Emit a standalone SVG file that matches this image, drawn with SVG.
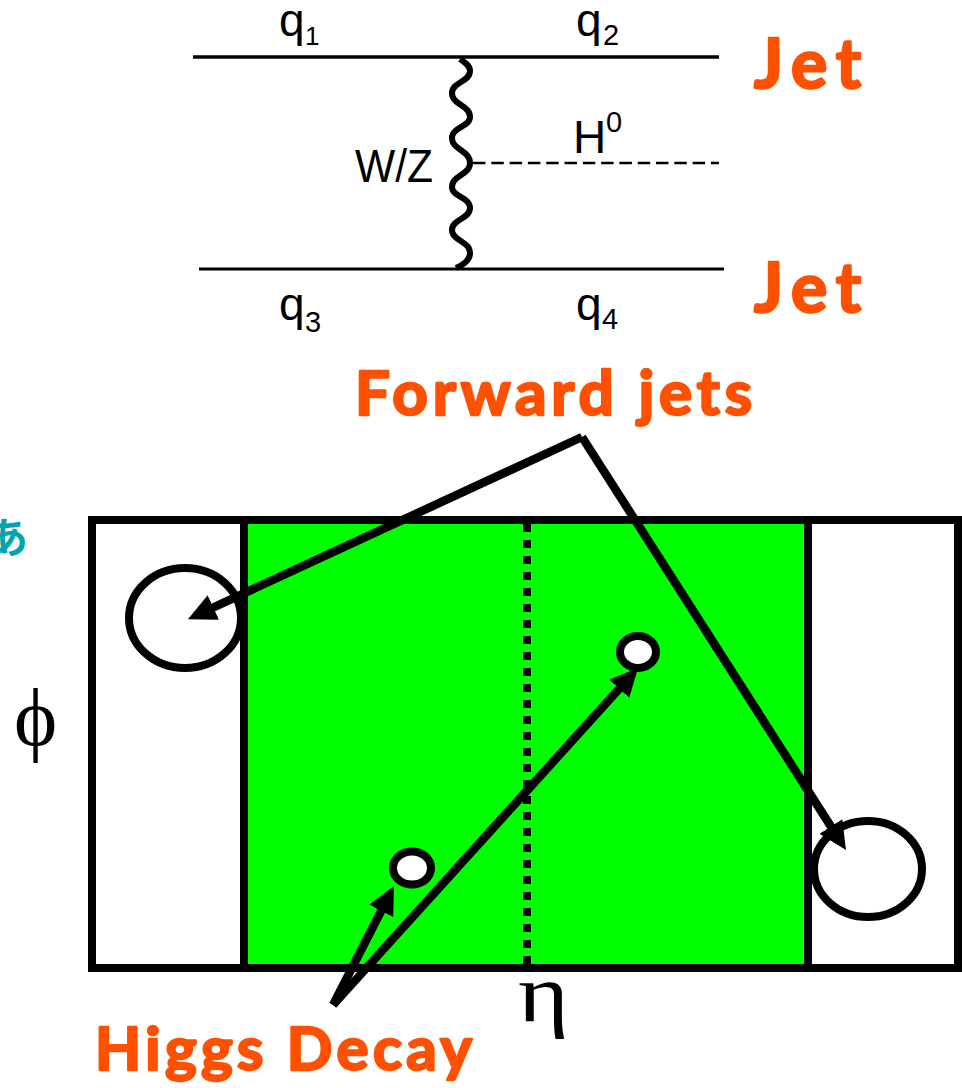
<svg xmlns="http://www.w3.org/2000/svg" width="962" height="1088" viewBox="0 0 962 1088">
<style>
.t{font-family:"Liberation Sans",Arial,sans-serif;fill:#000;font-size:46px}
.s{font-family:"Liberation Sans",Arial,sans-serif;fill:#000;font-size:29px}
.g{font-family:"Liberation Serif","Times New Roman",serif;fill:#000}
.o{font-family:"Lato","Noto Sans",sans-serif;font-weight:700;fill:#ff5000;stroke:#ff5000;stroke-width:2.5px;stroke-linejoin:round}
.b{fill:none;stroke:#000;stroke-width:8}
.a{fill:none;stroke:#000;stroke-width:8.5;marker-end:url(#h)}
</style>
<defs>
<marker id="h" markerUnits="userSpaceOnUse" markerWidth="30" markerHeight="28" refX="18" refY="14" orient="auto">
<path d="M28,14 L0,0.5 L0,27.5 Z" fill="#000"/>
</marker>
</defs>
<g id="feynman">
<path d="M193,57H719" fill="none" stroke="#000" stroke-width="3.5"/>
<path d="M199,269H724" fill="none" stroke="#000" stroke-width="3"/>
<path d="M473,163H719" fill="none" stroke="#000" stroke-width="2.5" stroke-dasharray="12.5 5.8"/>
<path d="M460,59C466,63 470,66 470,71C470,82 452,82 452,93C452,105 470,105 470,117C470,127 452,127 452,138C452,150 470,150 470,163C470,175 452,175 452,187C452,197 470,197 470,208C470,219 452,219 452,230C452,241 470,241 470,253C470,260 463,265 456,268" fill="none" stroke="#000" stroke-width="6"/>
<text class="t" x="279" y="36">q</text><text class="s" x="305" y="45" style="font-size:26px">1</text>
<text class="t" x="576" y="36">q</text><text class="s" x="603" y="45">2</text>
<text class="t" x="279" y="320">q</text><text class="s" x="305" y="332">3</text>
<text class="t" x="576" y="320">q</text><text class="s" x="602" y="329">4</text>
<text class="t" x="355" y="182" textLength="78" lengthAdjust="spacingAndGlyphs">W/Z</text>
<text class="t" x="573" y="153">H</text><text class="s" x="606" y="132">0</text>
</g>
<g id="jet-top"><text class="o" x="754" y="88" font-size="68" textLength="107" lengthAdjust="spacing">Jet</text></g>
<g id="jet-bottom"><text class="o" x="754" y="312" font-size="68" textLength="107" lengthAdjust="spacing">Jet</text></g>
<g id="forward-jets"><text class="o" x="355" y="415" font-size="62" textLength="397" lengthAdjust="spacing">Forward jets</text></g>
<g id="side-mark"><text x="-14" y="553" font-size="42" font-weight="700" fill="#00a5b0" font-family="'Noto Sans CJK JP',sans-serif">あ</text></g>
<g id="detector">
<rect x="92" y="520" width="866" height="448" fill="#fff" stroke="none"/>
<rect x="244" y="520" width="564" height="448" fill="#00ff00"/>
<rect class="b" x="92" y="520" width="866" height="448"/>
<path class="b" d="M244,520V968M808,520V968"/>
<path d="M527,524V964" fill="none" stroke="#000" stroke-width="8" stroke-dasharray="8 8"/>
</g>
<g id="jet-left"><ellipse class="b" cx="185" cy="618" rx="56" ry="50" style="fill:#fff"/></g>
<g id="jet-right"><ellipse class="b" cx="868" cy="869" rx="54" ry="48" style="fill:#fff"/></g>
<g id="decay-1"><ellipse class="b" cx="412" cy="868" rx="19" ry="16.5" style="fill:#fff"/></g>
<g id="decay-2"><ellipse class="b" cx="638" cy="652" rx="18" ry="16" style="fill:#fff"/></g>
<g id="connectors">
<path class="a" d="M582,437L197,615"/>
<path class="a" d="M582,437L840.6,841.6"/>
<path class="a" d="M333,1005L389.4,894.9"/>
<path class="a" d="M333,1005L631.3,675.4"/>
</g>
<g id="phi"><text class="g" x="14" y="745" font-size="82">ϕ</text></g>
<g id="eta"><text class="g" x="518" y="1021" font-size="83" textLength="51" lengthAdjust="spacingAndGlyphs">η</text></g>
<g id="higgs-decay"><text class="o" x="95" y="1070" font-size="60" textLength="377" lengthAdjust="spacing">Higgs Decay</text></g>
</svg>
